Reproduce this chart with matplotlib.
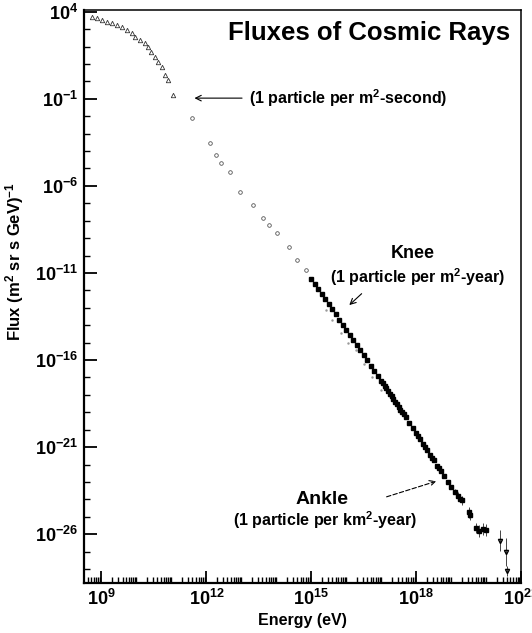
import numpy as np
import matplotlib
matplotlib.use("Agg")
import matplotlib.pyplot as plt
import matplotlib.ticker as mticker

plt.rcParams['font.family'] = ['Liberation Sans', 'DejaVu Sans']
plt.rcParams['mathtext.fontset'] = 'custom'
plt.rcParams['mathtext.rm'] = 'Liberation Sans:bold'
plt.rcParams['mathtext.bf'] = 'Liberation Sans:bold'
plt.rcParams['mathtext.it'] = 'Liberation Sans:bold'

# log10(E / eV) and log10(flux)
low_logE = [8.72, 8.86, 9.01, 9.15, 9.29, 9.43, 9.58, 9.72, 9.86, 9.96,
            10.10, 10.24, 10.34, 10.43, 10.53, 10.62, 10.72, 10.81, 10.91, 11.05]
low_logF = [3.72, 3.62, 3.53, 3.43, 3.33, 3.24, 3.14, 2.95, 2.76, 2.57,
            2.38, 2.19, 1.99, 1.70, 1.42, 1.13, 0.84, 0.36, 0.08, -0.78]

mid_logE = [11.58, 12.10, 12.29, 12.43, 12.67, 12.96, 13.33, 13.61, 13.79,
            14.03, 14.37, 14.60, 14.84]
mid_logF = [-2.12, -3.56, -4.23, -4.71, -5.19, -6.34, -7.10, -7.85, -8.26,
            -8.73, -9.50, -10.27, -10.84]

high_logE = [15.0, 15.1, 15.2, 15.3, 15.4, 15.5, 15.6, 15.7, 15.8, 15.9,
             16.0, 16.1, 16.2, 16.3, 16.4, 16.5, 16.6, 16.7, 16.8, 16.9,
             17.0, 17.05, 17.1, 17.15, 17.2, 17.25, 17.3, 17.35, 17.4, 17.45,
             17.5, 17.55, 17.6, 17.65, 17.7, 17.8, 17.9, 18.0, 18.05, 18.1,
             18.2, 18.25, 18.3, 18.4, 18.45, 18.5, 18.6, 18.65, 18.7, 18.8,
             18.9, 19.0, 19.1, 19.2, 19.25, 19.3, 19.5, 19.55, 19.7, 19.8,
             19.9, 20.0]
high_logF = [-11.33, -11.62, -11.92, -12.21, -12.50, -12.80, -13.09, -13.38, -13.68, -13.97,
             -14.26, -14.56, -14.85, -15.14, -15.44, -15.73, -16.02, -16.32, -16.61, -16.90,
             -17.20, -17.32, -17.49, -17.60, -17.78, -17.95, -18.08, -18.22, -18.38, -18.50,
             -18.68, -18.85, -18.98, -19.12, -19.28, -19.59, -19.90, -20.21, -20.38, -20.52,
             -20.83, -20.98, -21.14, -21.45, -21.60, -21.76, -22.07, -22.22, -22.37, -22.68,
             -23.00, -23.28, -23.55, -23.80, -23.95, -24.05, -24.75, -24.90, -25.65, -25.80,
             -25.70, -25.75]
high_err = [0.05] * 40 + [0.08] * 10 + [0.12, 0.12, 0.15, 0.2, 0.2, 0.25, 0.3, 0.3, 0.3, 0.35, 0.35, 0.35]

tail_logE = [20.39, 20.56, 20.60]
tail_logF = [-26.36, -27.03, -28.10]
tail_err = [0.6, 0.8, 0.3]

faint_logE = [15.41, 15.60, 15.85, 16.05, 16.27, 16.50, 16.75, 17.00]
faint_logF = [-13.14, -13.70, -14.45, -15.00, -15.44, -16.25, -17.00, -17.70]

yticks = [4, -1, -6, -11, -16, -21, -26]
xticks = [9, 12, 15, 18, 21]

fig = plt.figure(figsize=(5.32, 6.33), dpi=100)
ax = fig.add_axes([84 / 532, 50 / 633, 437 / 532, 573 / 633])
ax.set_xscale('log')
ax.set_yscale('log')

E = lambda v: 10.0 ** np.array(v)

ax.plot(E(low_logE), E(low_logF), linestyle='none', marker='^', ms=3.2,
        mfc='none', mec='#333333', mew=0.6)
ax.plot(E(mid_logE), E(mid_logF), linestyle='none', marker='o', ms=2.6,
        mfc='none', mec='#555555', mew=0.6)
ax.plot(E(faint_logE), E(faint_logF), linestyle='none', marker='.', ms=1.5,
        color='#999999')

hf = np.array(high_logF)
he = np.array(high_err)
ax.errorbar(E(high_logE), E(hf),
            yerr=[E(hf) - E(hf - he), E(hf + he) - E(hf)],
            fmt='s', ms=2.6, color='black', ecolor='#444444', elinewidth=0.7,
            capsize=0)
tf = np.array(tail_logF)
te = np.array(tail_err)
ax.errorbar(E(tail_logE), E(tf),
            yerr=[E(tf) - E(tf - te), E(tf + te) - E(tf)],
            fmt='v', ms=3, color='black', mfc='none', ecolor='#444444',
            elinewidth=0.7, capsize=0)

ax.set_xlim(10 ** 8.5, 10 ** 21.0)
ax.set_ylim(10 ** -28.8, 10 ** 4.1)

ax.xaxis.set_major_locator(mticker.FixedLocator([10.0 ** k for k in xticks]))
ax.xaxis.set_major_formatter(mticker.FixedFormatter(
    [r'$\mathbf{10^{%d}}$' % k for k in xticks]))
ax.xaxis.set_minor_locator(mticker.LogLocator(base=10, subs=np.arange(1, 10), numticks=100))
ax.xaxis.set_minor_formatter(mticker.NullFormatter())

ax.yaxis.set_major_locator(mticker.FixedLocator([10.0 ** k for k in yticks]))
ax.yaxis.set_major_formatter(mticker.FixedFormatter(
    [r'$\mathbf{10^{%d}}$' % k for k in yticks]))
ax.yaxis.set_minor_locator(mticker.LogLocator(base=10, subs=(1.0,), numticks=100))
ax.yaxis.set_minor_formatter(mticker.NullFormatter())

ax.tick_params(which='major', direction='in', length=9, width=1.3,
               labelsize=13, top=False, right=False, pad=4)
ax.tick_params(which='minor', direction='in', length=4.5, width=1.0,
               top=False, right=False)
for s in ['left', 'bottom']:
    ax.spines[s].set_linewidth(1.6)
for s in ['top', 'right']:
    ax.spines[s].set_linewidth(1.1)

ax.set_xlabel('Energy (eV)', fontsize=11.5, fontweight='bold', labelpad=3)
fig.text(15 / 532, 1 - 262 / 633, r'Flux (m$^{2}$ sr s GeV)$^{-1}$', rotation=90,
         ha='center', va='center', fontsize=12, fontweight='bold')

ax.text(0.975, 0.96, 'Fluxes of Cosmic Rays', transform=ax.transAxes,
        ha='right', va='center', fontsize=18.5, fontweight='bold')

ax.annotate('', xy=(10 ** 11.58, 10 ** -0.96), xytext=(10 ** 13.1, 10 ** -0.96),
            arrowprops=dict(arrowstyle='->', lw=0.8, color='black'))
ax.text(10 ** 13.22, 10 ** -0.96, r'(1 particle per m$^{2}$-second)',
        ha='left', va='center', fontsize=11.5, fontweight='bold')

ax.text(10 ** 17.9, 10 ** -9.87, 'Knee', ha='center', va='center',
        fontsize=13, fontweight='bold')
ax.text(10 ** 18.04, 10 ** -11.24, r'(1 particle per m$^{2}$-year)',
        ha='center', va='center', fontsize=11.5, fontweight='bold')
ax.annotate('', xy=(10 ** 16.03, 10 ** -12.95), xytext=(10 ** 16.5, 10 ** -12.08),
            arrowprops=dict(arrowstyle='->', lw=0.8, color='black'))

ax.text(10 ** 15.3, 10 ** -24.0, 'Ankle', ha='center', va='center',
        fontsize=14, fontweight='bold')
ax.text(10 ** 15.39, 10 ** -25.2, r'(1 particle per km$^{2}$-year)',
        ha='center', va='center', fontsize=11.5, fontweight='bold')
ax.annotate('', xy=(10 ** 18.65, 10 ** -22.91), xytext=(10 ** 17.08, 10 ** -23.9),
            arrowprops=dict(arrowstyle='->', lw=0.8, color='black',
                            linestyle=(0, (4, 2))))

fig.savefig('out.png', dpi=100)
